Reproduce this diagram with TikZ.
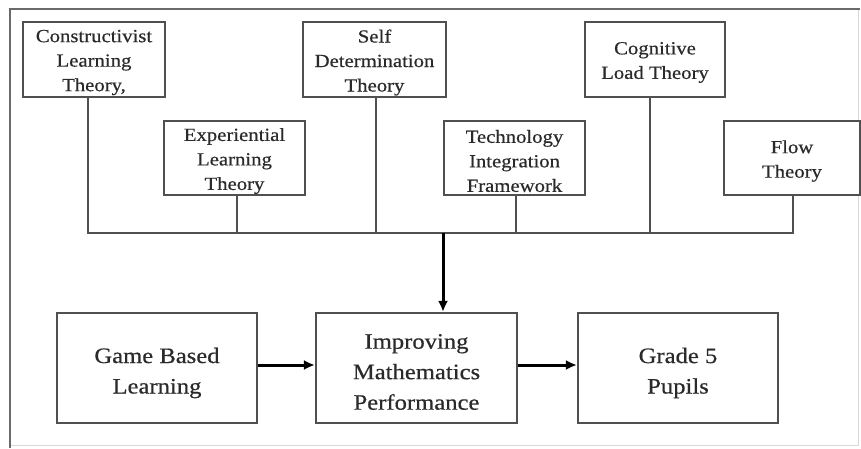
\documentclass[tikz,border=0pt]{standalone}
\usepackage{fontspec}
\setmainfont{Liberation Serif}
\newfontfamily\wideserif[FakeStretch=1.12,FakeBold=0.5]{Liberation Serif}
\usetikzlibrary{arrows.meta}
\definecolor{boxgray}{HTML}{505050}
\definecolor{ink}{HTML}{2A2A2A}
\definecolor{framegray}{HTML}{6A6A6A}
\definecolor{framelight}{HTML}{D8D8D8}

\begin{document}
\begin{tikzpicture}[x=1pt,y=-1pt,
  theory/.style={draw=boxgray, line width=2pt, fill=white,
    inner sep=0pt, minimum height=75pt},
  ttext/.style={align=center, inner sep=0pt, text=ink, yshift=-3pt,
    font=\wideserif\fontsize{18.5}{24.5}\selectfont},
  mainbox/.style={draw=boxgray, line width=2.2pt, fill=white,
    inner sep=0pt, minimum width=200pt, minimum height=110pt},
  mtext/.style={align=center, inner sep=0pt, text=ink, yshift=-5pt,
    font=\wideserif\fontsize{22}{30.5}\selectfont},
  link/.style={draw=boxgray, line width=1.8pt},
  flow/.style={draw=black, line width=3pt, -{Latex[length=11pt,width=10pt]}}]

% canvas and outer frame
\fill[white] (0,0) rectangle (861,448);
\draw[framelight, line width=1pt] (858,9) -- (858,445) -- (10,445);
\draw[framegray, line width=2pt] (10,448) -- (10,9) -- (860,9);

% theory boxes
\node[theory, minimum width=142pt,
  label={[ttext]center:{Constructivist\\Learning\\Theory,}}] (clt) at (94,59.5) {};
\node[theory, minimum width=141pt, minimum height=74pt,
  label={[ttext]center:{Experiential\\Learning\\Theory}}] (elt) at (234.5,158) {};
\node[theory, minimum width=143pt,
  label={[ttext]center:{Self\\Determination\\Theory}}] (sdt) at (374.5,59.5) {};
\node[theory, minimum width=141pt, minimum height=74pt,
  label={[ttext]center:{Technology\\Integration\\Framework}}] (tif) at (514.5,158) {};
\node[theory, minimum width=140pt,
  label={[ttext]center:{Cognitive\\Load Theory}}] (clt2) at (655,59.5) {};
\node[theory, minimum width=136pt, minimum height=74pt,
  label={[ttext]center:{Flow\\Theory}}] (flw) at (792,158) {};

% main chain
\node[mainbox, label={[mtext]center:{Game Based\\Learning}}] (gbl) at (157,368) {};
\node[mainbox, minimum width=201pt,
  label={[mtext, yshift=1pt]center:{Improving\\Mathematics\\Performance}}] (imp) at (416.5,368) {};
\node[mainbox, label={[mtext]center:{Grade 5\\Pupils}}] (g5) at (678,368) {};

% collecting bus
\coordinate (bus) at (443,233);
\draw[link] ([xshift=-6pt]clt.south) |- (bus);
\draw[link] ([xshift=2.5pt]elt.south) |- (bus);
\draw[link] ([xshift=1.5pt]sdt.south) |- (bus);
\draw[link] ([xshift=1.5pt]tif.south) |- (bus);
\draw[link] ([xshift=-5pt]clt2.south) |- (bus);
\draw[link] ([xshift=1pt]flw.south) |- (bus);

% arrows
\draw[flow] (bus) -- (bus |- imp.north);
\draw[flow] ([yshift=3pt]gbl.east) -- ([yshift=3pt]imp.west);
\draw[flow] ([yshift=3pt]imp.east) -- ([yshift=3pt]g5.west);
\end{tikzpicture}
\end{document}
